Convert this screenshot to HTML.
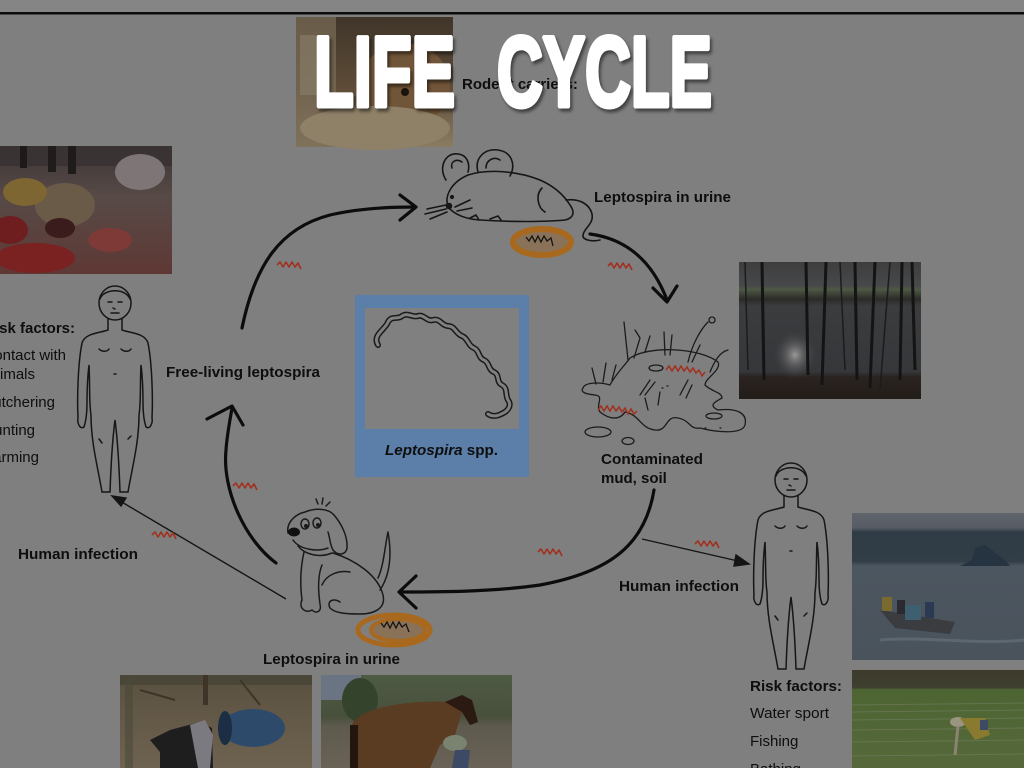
<!DOCTYPE html>
<html><head><meta charset="utf-8"><style>
html,body{margin:0;padding:0;width:1024px;height:768px;overflow:hidden;background:#7f7f7f;}
svg{display:block;}
text{font-family:"Liberation Sans",Arial,sans-serif;fill:#0e0e0e;}
</style></head><body>
<svg width="1024" height="768" viewBox="0 0 1024 768" xmlns="http://www.w3.org/2000/svg">
<defs>
<linearGradient id="rodG" x1="0" y1="0" x2="0" y2="1"><stop offset="0" stop-color="#3f3529"/><stop offset="0.55" stop-color="#5e4c38"/><stop offset="1" stop-color="#8a7b62"/></linearGradient>
<linearGradient id="butG" x1="0" y1="0" x2="0" y2="1"><stop offset="0" stop-color="#3c3535"/><stop offset="0.4" stop-color="#574a47"/><stop offset="1" stop-color="#5e3834"/></linearGradient>
<linearGradient id="pondG" x1="0" y1="0" x2="0" y2="1"><stop offset="0" stop-color="#3e3e3d"/><stop offset="0.17" stop-color="#46484a"/><stop offset="0.2" stop-color="#4d5844"/><stop offset="0.27" stop-color="#2c2b28"/><stop offset="0.32" stop-color="#3b3c3e"/><stop offset="0.8" stop-color="#35373a"/><stop offset="0.84" stop-color="#2a231f"/><stop offset="1" stop-color="#231d19"/></linearGradient>
<radialGradient id="glow" cx="0.5" cy="0.5" r="0.5"><stop offset="0" stop-color="#9a9898"/><stop offset="1" stop-color="#3b3c3e" stop-opacity="0"/></radialGradient>
<linearGradient id="boatG" x1="0" y1="0" x2="0" y2="1"><stop offset="0" stop-color="#60646b"/><stop offset="0.1" stop-color="#575c64"/><stop offset="0.13" stop-color="#2f3b45"/><stop offset="0.33" stop-color="#323e47"/><stop offset="0.36" stop-color="#4c5660"/><stop offset="1" stop-color="#4a535b"/></linearGradient>
<linearGradient id="riceG" x1="0" y1="0" x2="0" y2="1"><stop offset="0" stop-color="#3d3a2c"/><stop offset="0.18" stop-color="#3f4030"/><stop offset="0.2" stop-color="#4d6532"/><stop offset="1" stop-color="#56683a"/></linearGradient>
<linearGradient id="goatG" x1="0" y1="0" x2="0" y2="1"><stop offset="0" stop-color="#5a5040"/><stop offset="1" stop-color="#6e6350"/></linearGradient>
<linearGradient id="horseG" x1="0" y1="0" x2="0" y2="1"><stop offset="0" stop-color="#4e5a44"/><stop offset="0.45" stop-color="#48503c"/><stop offset="0.55" stop-color="#5e5a4e"/><stop offset="1" stop-color="#6a6256"/></linearGradient>
<filter id="sh" x="-5%" y="-5%" width="110%" height="120%"><feGaussianBlur stdDeviation="1.5"/></filter>
<g id="sq"><path d="M0,0 l3,-3 l3,5 l3,-5 l3,5 l3,-5 l3,5 l3,-4 l3,6" fill="none" stroke="#a2301f" stroke-width="1.6" stroke-linejoin="round"/></g>
<g id="human" fill="none" stroke="#161616" stroke-width="1.5" stroke-linecap="round">
<ellipse cx="0" cy="0" rx="16" ry="17"/>
<path d="M-15,-4 C-12,-14 10,-16 15,-4"/>
<path d="M-7,-1 l4,0 M3,-1 l4,0 M-2,5 l2,1 M-4,10 l8,0"/>
<path d="M-7,16 L-7,27 C-15,30 -30,30 -33,40 C-37,60 -38,95 -37,115 C-38,120 -35,127 -31,124 C-29,118 -28,110 -28,100 C-28,85 -27,70 -26,62 C-25,80 -26,100 -24,112 C-24,140 -17,165 -13,189 L-5,189 C-4,160 -3,140 0,117 C3,140 4,160 5,189 L13,189 C17,165 24,140 24,112 C26,100 25,80 26,62 C27,70 28,85 28,100 C28,110 29,118 31,124 C35,127 38,120 37,115 C38,95 37,60 33,40 C30,30 15,30 7,27 L7,16"/>
<path d="M-16,46 c3,3 8,3 10,0 M6,46 c3,3 8,3 10,0 M-1,71 l2,0 M-16,136 l3,4 M13,136 l3,-3"/>
</g>
</defs>

<!-- top strip and line -->
<rect x="0" y="0" width="1024" height="13" fill="#858585"/>
<rect x="0" y="12" width="1024" height="2.5" fill="#0c0c0c"/>

<!-- Rodent photo -->
<g>
<rect x="296" y="17" width="157" height="130" fill="url(#rodG)"/>
<rect x="296" y="17" width="40" height="130" fill="#7a6d58" opacity="0.7"/>
<ellipse cx="405" cy="85" rx="45" ry="42" fill="#715538"/>
<ellipse cx="375" cy="128" rx="75" ry="22" fill="#8f8068"/>
<circle cx="405" cy="92" r="4" fill="#1a120c"/>
<rect x="300" y="35" width="20" height="60" fill="#8a7e6a" opacity="0.6"/>
</g>

<!-- Butcher photo -->
<g>
<rect x="0" y="146" width="172" height="128" fill="url(#butG)"/>
<rect x="0" y="146" width="172" height="20" fill="#3a3333"/>
<rect x="20" y="146" width="7" height="22" fill="#1f1a1a"/><rect x="48" y="146" width="8" height="26" fill="#211c1c"/><rect x="68" y="146" width="8" height="28" fill="#1f1b1b"/>
<ellipse cx="140" cy="172" rx="25" ry="18" fill="#7e7676"/>
<ellipse cx="65" cy="205" rx="30" ry="22" fill="#6a5a48"/>
<ellipse cx="25" cy="192" rx="22" ry="14" fill="#7e6632"/>
<ellipse cx="35" cy="258" rx="40" ry="15" fill="#7a2222"/>
<ellipse cx="110" cy="240" rx="22" ry="12" fill="#7e3a36"/>
<ellipse cx="10" cy="230" rx="18" ry="14" fill="#6e1e1e"/>
<ellipse cx="60" cy="228" rx="15" ry="10" fill="#3a1c1c"/>
</g>

<!-- Pond photo -->
<g>
<rect x="739" y="262" width="182" height="137" fill="url(#pondG)"/>
<ellipse cx="795" cy="355" rx="22" ry="25" fill="url(#glow)"/>
<g stroke="#141414" stroke-width="3">
<line x1="762" y1="262" x2="764" y2="380"/><line x1="806" y1="262" x2="808" y2="375"/><line x1="826" y1="262" x2="822" y2="385"/><line x1="855" y1="262" x2="857" y2="380"/><line x1="875" y1="262" x2="870" y2="388"/><line x1="902" y1="262" x2="900" y2="380"/><line x1="912" y1="262" x2="915" y2="370"/>
</g>
<g stroke="#1c1c1c" stroke-width="1.5"><line x1="745" y1="262" x2="748" y2="370"/><line x1="840" y1="262" x2="845" y2="370"/><line x1="890" y1="262" x2="880" y2="390"/></g>
</g>

<!-- Boat photo -->
<g>
<rect x="852" y="513" width="172" height="147" fill="url(#boatG)"/>
<path d="M880,610 L955,622 L950,634 L895,628 Z" fill="#3a3c40"/>
<rect x="882" y="597" width="10" height="14" fill="#7a6a30"/>
<rect x="897" y="600" width="8" height="14" fill="#2a2a30"/>
<rect x="905" y="605" width="16" height="15" fill="#3d5f70"/>
<rect x="925" y="602" width="9" height="16" fill="#2b3a52"/>
<path d="M960,566 L1010,566 L1005,560 L985,545 L975,548 L972,560 Z" fill="#263442"/>
<path d="M880,640 C920,636 980,645 1024,640" stroke="#5e666e" stroke-width="3" fill="none"/>
</g>

<!-- Rice photo -->
<g>
<rect x="852" y="670" width="172" height="98" fill="url(#riceG)"/>
<g stroke="#6e7a5a" stroke-width="1" opacity="0.7">
<line x1="852" y1="705" x2="1024" y2="703"/><line x1="852" y1="712" x2="1024" y2="710"/><line x1="852" y1="720" x2="1024" y2="718"/><line x1="852" y1="730" x2="1024" y2="728"/><line x1="852" y1="742" x2="1024" y2="740"/><line x1="852" y1="756" x2="1024" y2="754"/>
</g>
<ellipse cx="958" cy="722" rx="8" ry="5" fill="#9a9580"/>
<path d="M960,718 L985,718 L990,735 L975,740 Z" fill="#8a7a30"/>
<rect x="980" y="720" width="8" height="10" fill="#3c4a66"/>
<line x1="958" y1="726" x2="955" y2="755" stroke="#8a8470" stroke-width="3"/>
</g>

<!-- Goat photo -->
<g>
<rect x="120" y="675" width="192" height="93" fill="url(#goatG)"/>
<rect x="120" y="675" width="192" height="10" fill="#4a4638"/>
<rect x="203" y="675" width="5" height="30" fill="#3e3428"/>
<rect x="125" y="675" width="8" height="93" fill="#4a4a3a" opacity="0.6"/>
<path d="M140,690 L175,700 M240,680 L260,705" stroke="#3e3428" stroke-width="2"/>
<ellipse cx="253" cy="728" rx="32" ry="19" fill="#2e4a6a"/>
<ellipse cx="225" cy="728" rx="7" ry="17" fill="#1c2e44"/>
<path d="M150,740 L170,730 L200,722 L212,728 L213,768 L160,768 L160,752 Z" fill="#1e1e1e"/>
<path d="M190,725 L205,720 L213,735 L210,768 L198,768 Z" fill="#7a7a80"/>
</g>

<!-- Horse photo -->
<g>
<rect x="321" y="675" width="191" height="93" fill="url(#horseG)"/>
<rect x="321" y="675" width="40" height="25" fill="#6a7482"/>
<ellipse cx="360" cy="700" rx="18" ry="22" fill="#33432c"/>
<path d="M350,768 L352,725 C360,705 420,700 445,702 L462,695 L472,700 L478,722 L470,725 L462,712 L455,735 L440,745 L430,768 Z" fill="#5a3c22"/>
<path d="M445,702 L462,695 L472,700 L478,722 L470,725 L462,712 Z" fill="#2a1a12"/>
<rect x="350" y="725" width="8" height="43" fill="#22160e"/>
<ellipse cx="455" cy="743" rx="12" ry="8" fill="#7a8270"/>
<path d="M455,750 L470,750 L468,768 L452,768 Z" fill="#3c4a66"/>
</g>

<!-- Blue box -->
<rect x="355" y="295" width="174" height="182" fill="#5b7fa8"/>
<rect x="365" y="308" width="154" height="121" fill="#808080"/>
<path d="M378,345 C372,335 385,330 388,322 C392,315 398,320 402,316 C408,312 412,318 418,316 C424,314 427,322 433,320 C440,318 442,326 448,326 C455,326 456,334 462,336 C468,338 468,346 474,348 C480,351 478,358 484,360 C490,363 488,370 494,372 C500,375 496,382 502,385 C508,388 505,395 508,400 C512,405 508,410 505,412 C500,415 494,418 488,414" fill="none" stroke="#1a1a1a" stroke-width="6" stroke-linecap="round"/>
<path d="M378,345 C372,335 385,330 388,322 C392,315 398,320 402,316 C408,312 412,318 418,316 C424,314 427,322 433,320 C440,318 442,326 448,326 C455,326 456,334 462,336 C468,338 468,346 474,348 C480,351 478,358 484,360 C490,363 488,370 494,372 C500,375 496,382 502,385 C508,388 505,395 508,400 C512,405 508,410 505,412 C500,415 494,418 488,414" fill="none" stroke="#808080" stroke-width="3" stroke-linecap="round"/>
<text x="385" y="455" font-size="15" font-weight="bold" textLength="113" lengthAdjust="spacingAndGlyphs"><tspan font-style="italic">Leptospira</tspan> spp.</text>

<!-- Humans -->
<use href="#human" transform="translate(115,303)"/>
<use href="#human" transform="translate(791,480)"/>

<!-- Mouse -->
<g fill="none" stroke="#161616" stroke-width="1.6" stroke-linecap="round" stroke-linejoin="round">
<path d="M446,180 C438,168 445,152 458,154 C468,155 470,165 468,172"/>
<path d="M452,168 C450,162 456,158 462,162"/>
<path d="M478,172 C474,158 485,148 498,150 C512,152 516,165 510,176"/>
<path d="M486,168 C486,160 494,156 500,160"/>
<path d="M448,207 C444,195 452,182 468,175 C490,168 520,172 540,180 C556,187 565,197 570,205 C575,212 574,218 565,220 C545,222 510,222 480,220 C465,219 455,215 448,207"/>
<path d="M566,200 C580,198 590,205 592,214 C594,224 584,228 583,235 C582,240 592,242 600,240"/>
<path d="M542,188 C535,195 538,208 545,212"/>
<path d="M427,209 L446,205 M425,214 L446,209 M430,219 L447,212 M455,207 L470,200 M457,211 L472,208"/>
<circle cx="452" cy="197" r="1.3" fill="#161616"/>
<circle cx="449" cy="206" r="2.5" fill="#161616"/>
<path d="M470,218 l6,-3 l3,5 M490,219 l8,-3 l3,4"/>
</g>
<ellipse cx="542" cy="242" rx="29" ry="13" fill="#8a7258" stroke="#a8691f" stroke-width="6"/>
<path d="M526,237 l3,4 l3,-5 l3,6 l3,-6 l3,6 l3,-6 l3,5 l4,-3 l2,8" fill="none" stroke="#141414" stroke-width="1.3"/>

<!-- Dog -->
<g fill="none" stroke="#1a1a1a" stroke-width="1.5" stroke-linecap="round" stroke-linejoin="round">
<path d="M288,533 C286,522 296,514 305,512 C315,508 328,508 334,515 C340,522 348,535 347,548 C346,555 338,556 333,550 C330,545 330,538 328,532"/>
<path d="M318,504 l-2,-5 M322,504 l1,-6 M326,506 l4,-4"/>
<path d="M293,540 C300,550 318,552 328,548"/>
<path d="M298,546 C305,555 320,558 332,553"/>
<path d="M304,552 C300,570 300,585 302,600 C298,608 306,614 312,610 C316,614 322,612 320,604 C318,590 318,575 322,565"/>
<path d="M333,553 C355,560 378,575 383,595 C386,608 375,614 360,614 C345,614 335,613 330,608 C326,600 335,598 340,602"/>
<path d="M322,585 C326,575 338,570 350,572"/>
<path d="M380,590 C390,575 392,555 388,532 C385,545 384,565 378,578"/>
<ellipse cx="305" cy="524" rx="4" ry="5"/><ellipse cx="317" cy="523" rx="4" ry="5"/>
</g>
<circle cx="306" cy="526" r="2" fill="#1a1a1a"/><circle cx="318" cy="525" r="2" fill="#1a1a1a"/>
<ellipse cx="294" cy="532" rx="6" ry="4.5" fill="#111"/>
<ellipse cx="394" cy="630" rx="36" ry="15" fill="none" stroke="#a8691f" stroke-width="5"/>
<ellipse cx="398" cy="630" rx="27" ry="11" fill="#8a7258" stroke="#a8691f" stroke-width="4"/>
<path d="M381,623 l3,4 l3,-5 l3,6 l3,-6 l3,6 l3,-6 l3,5 l4,-3 l3,8" fill="none" stroke="#141414" stroke-width="1.3"/>

<!-- Mud / soil drawing -->
<g fill="none" stroke="#1c1c1c" stroke-width="1.3" stroke-linecap="round">
<path d="M583,388 C585,382 600,382 610,385 C615,375 625,365 630,358 C650,345 700,348 718,362 C722,370 705,378 705,385 C712,392 722,392 722,398 C715,402 708,405 718,410 C735,408 748,412 745,425 C742,435 715,432 700,428 C690,430 690,420 678,418 C665,415 668,432 655,430 C640,428 640,415 625,412 C620,420 610,420 600,412 C595,405 605,396 595,395 C585,394 580,392 583,388 Z"/>
<ellipse cx="598" cy="432" rx="13" ry="5"/><ellipse cx="628" cy="441" rx="6" ry="3.5"/><ellipse cx="714" cy="416" rx="8" ry="3"/><ellipse cx="656" cy="368" rx="7" ry="3"/>
<path d="M596,384 L592,368 M603,382 L606,363 M612,380 L616,365 M628,360 L624,322 M634,358 L640,338 L635,330 M645,352 L650,336 M665,355 L664,332 M670,355 L672,335 M688,362 C692,345 700,330 708,322 M692,362 L700,345 M710,372 C715,360 720,352 728,350 M640,395 L650,380 M645,395 L655,382 M680,395 L688,380 M686,398 L692,385 M648,410 L645,398 M658,405 L660,392"/>
<circle cx="712" cy="320" r="3"/>
<path d="M662,388 l1,0 M667,386 l1,0 M720,428 l1,0 M705,428 l1,0"/>
</g>
<path d="M598,410 l3,-4 l3,5 l3,-5 l3,5 l3,-5 l3,5 l3,-4 l3,5 l3,-4 l3,6 l3,-5 l3,5 l3,-3" fill="none" stroke="#a2301f" stroke-width="1.5"/>
<path d="M666,370 l3,-4 l3,5 l3,-5 l3,5 l3,-5 l3,5 l3,-4 l3,5 l3,-4 l3,5 l3,-3 l3,6 l3,-4" fill="none" stroke="#a2301f" stroke-width="1.5"/>

<!-- Thick cycle arrows -->
<g fill="none" stroke="#0c0c0c" stroke-width="3.2" stroke-linecap="round" stroke-linejoin="round">
<path d="M242,328 C255,265 280,228 330,215 C360,208 390,207 414,207"/>
<path d="M400,195 L416,207 L400,220"/>
<path d="M590,234 C620,238 650,255 667,300"/>
<path d="M653,288 L667,302 L677,286"/>
<path d="M654,490 C645,545 610,572 540,585 C490,592 440,592 400,592"/>
<path d="M416,576 L399,592 L416,608"/>
<path d="M276,563 C245,540 222,490 226,450 C227,435 230,420 232,408"/>
<path d="M207,419 L232,406 L243,425"/>
</g>

<!-- Thin arrows -->
<g stroke="#151515" stroke-width="1.4" fill="#151515">
<line x1="286" y1="599" x2="120" y2="501"/>
<path d="M112,496 L126,498 L121,506 Z"/>
<line x1="642" y1="539" x2="738" y2="561"/>
<path d="M749,564 L736,555 L734,566 Z"/>
</g>

<!-- Red squiggles -->
<use href="#sq" transform="translate(277,265)"/>
<use href="#sq" transform="translate(608,266)"/>
<use href="#sq" transform="translate(233,486)"/>
<use href="#sq" transform="translate(152,535)"/>
<use href="#sq" transform="translate(538,552)"/>
<use href="#sq" transform="translate(695,544)"/>

<!-- Labels -->
<g font-size="15" font-weight="bold">
<text x="462" y="89">Rodent carriers:</text>
<text x="594" y="202" textLength="137" lengthAdjust="spacingAndGlyphs">Leptospira in urine</text>
<text x="166" y="377" textLength="154" lengthAdjust="spacingAndGlyphs">Free-living leptospira</text>
<text x="601" y="464" textLength="102" lengthAdjust="spacingAndGlyphs">Contaminated</text>
<text x="601" y="483">mud, soil</text>
<text x="18" y="559" textLength="120" lengthAdjust="spacingAndGlyphs">Human infection</text>
<text x="619" y="591" textLength="120" lengthAdjust="spacingAndGlyphs">Human infection</text>
<text x="263" y="664" textLength="137" lengthAdjust="spacingAndGlyphs">Leptospira in urine</text>
<text x="75" y="333" text-anchor="end">Risk factors:</text>
<text x="750" y="691" textLength="92" lengthAdjust="spacingAndGlyphs">Risk factors:</text>
</g>
<g font-size="15">
<text x="66" y="360" text-anchor="end">Contact with</text>
<text x="35" y="379" text-anchor="end">animals</text>
<text x="55" y="407" text-anchor="end">Butchering</text>
<text x="35" y="435" text-anchor="end">Hunting</text>
<text x="39" y="462" text-anchor="end">Farming</text>
<text x="750" y="718" textLength="79" lengthAdjust="spacingAndGlyphs">Water sport</text>
<text x="750" y="746">Fishing</text>
<text x="750" y="774">Bathing</text>
</g>

<!-- Title -->
<g font-weight="bold" font-size="99" stroke-linejoin="round">
<text x="316" y="109" textLength="141" lengthAdjust="spacingAndGlyphs" style="fill:#000;stroke:#000;stroke-width:5" opacity="0.5" filter="url(#sh)">LIFE</text>
<text x="499" y="109" textLength="215" lengthAdjust="spacingAndGlyphs" style="fill:#000;stroke:#000;stroke-width:5" opacity="0.5" filter="url(#sh)">CYCLE</text>
<text x="314" y="106" textLength="141" lengthAdjust="spacingAndGlyphs" style="fill:#ffffff;stroke:#ffffff;stroke-width:5">LIFE</text>
<text x="497" y="106" textLength="215" lengthAdjust="spacingAndGlyphs" style="fill:#ffffff;stroke:#ffffff;stroke-width:5">CYCLE</text>
</g>
</svg>
</body></html>
